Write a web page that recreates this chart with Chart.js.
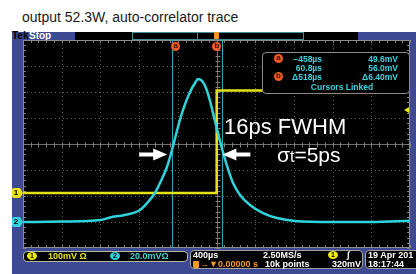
<!DOCTYPE html>
<html><head><meta charset="utf-8">
<script src="https://cdn.jsdelivr.net/npm/chart.js@4.4.1/dist/chart.umd.min.js"></script>
<style>
html,body{margin:0;padding:0;background:#fff;}
#wrap{position:relative;width:416px;height:274px;overflow:hidden;font-family:"Liberation Sans",Arial,sans-serif;}
.abs{position:absolute;white-space:nowrap;}
.ro{position:absolute;white-space:nowrap;font:bold 8.5px "Liberation Sans",Arial,sans-serif;color:#3cd2dc;line-height:10px;}
.st{position:absolute;white-space:nowrap;font:bold 9px "Liberation Sans",Arial,sans-serif;line-height:10px;}
.box{position:absolute;background:#000;border:1px solid #a0a0a0;border-radius:4px;box-sizing:border-box;}
.dot{position:absolute;width:10px;height:8px;border-radius:50%;font:bold 7px "Liberation Sans",Arial,sans-serif;color:#000;text-align:center;line-height:8px;}
.cl{position:absolute;width:9px;height:9px;border-radius:50%;background:#f05a23;font:bold 8px "Liberation Sans",Arial,sans-serif;color:#3a1000;text-align:center;line-height:8px;}
.mk{position:absolute;width:8px;height:10px;font:bold 8px "Liberation Sans",Arial,sans-serif;color:#000;text-align:center;line-height:10px;border-radius:2px 0 0 2px;background:var(--c);}
.mk::after{content:'';position:absolute;left:8px;top:0;border-top:5px solid transparent;border-bottom:5px solid transparent;border-left:3px solid var(--c);}
</style></head>
<body>
<div id="wrap">
 <div class="abs" style="left:22px;top:9px;font-size:14px;color:#1a1a1a">output 52.3W, auto-correlator trace</div>
 <div class="abs" style="left:12px;top:32px;width:404px;height:242px;background:#3d4993"></div>
 <div class="abs" style="left:12px;top:31px;font:bold 10px 'Liberation Sans',Arial;color:#000;line-height:10px">Tek</div>
 <div class="abs" style="left:29px;top:31px;font:bold 10px 'Liberation Sans',Arial;color:#fff;line-height:10px">Stop</div>
 <div class="abs" style="left:75px;top:32px;width:283px;height:8px;background:#000"></div>
 <div class="abs" style="left:132px;top:32px;width:170px;height:6px;border:1px solid #3f8f94;box-sizing:content-box"></div>
 <div class="abs" style="left:197px;top:32px;width:1px;height:8px;background:#3f8f94"></div>
 <canvas id="c" width="416" height="274" style="position:absolute;left:0;top:0"></canvas>
 <div class="abs" style="left:214px;top:32px;width:5px;height:7px;background:#f09a20;border-radius:1px"></div>

 <div class="cl" id="cla" style="top:42px">a</div>
 <div class="cl" id="clb" style="top:42px">b</div>

 <div class="box" style="left:262px;top:52px;width:148px;height:42px;border-color:#8a8a8a"></div>
 <div class="cl" style="left:274px;top:54px">a</div>
 <div class="ro" style="left:282px;top:54px;width:40px;text-align:right">&minus;458&micro;s</div>
 <div class="ro" style="left:350px;top:54px;width:48px;text-align:right">49.6mV</div>
 <div class="ro" style="left:282px;top:63px;width:40px;text-align:right">60.8&micro;s</div>
 <div class="ro" style="left:350px;top:63px;width:48px;text-align:right">56.0mV</div>
 <div class="cl" style="left:274px;top:72px">b</div>
 <div class="ro" style="left:282px;top:72px;width:40px;text-align:right">&Delta;518&micro;s</div>
 <div class="ro" style="left:350px;top:72px;width:48px;text-align:right">&Delta;6.40mV</div>
 <div class="ro" style="left:300px;top:82px;width:84px;text-align:center">Cursors Linked</div>

 <div class="abs" style="left:224px;top:115px;font-size:22px;color:#fff;line-height:23px">16ps FWHM</div>
 <div class="abs" style="left:277px;top:143px;font-size:21px;color:#fff;line-height:23px">&sigma;<span style="font-size:16px">t</span>=5ps</div>

 <div class="mk" id="mk1" style="--c:#e8e41c;left:12px">1</div>
 <div class="mk" id="mk2" style="--c:#2fd3db;left:12px">2</div>
 <div class="abs" id="trg" style="left:404px;width:0;height:0;border-top:3px solid transparent;border-bottom:3px solid transparent;border-right:5px solid #e8e41c"></div>

 <div class="box" style="left:23px;top:251px;width:165px;height:11px;border-color:#b8b89a"></div>
 <div class="dot" style="left:27px;top:252px;background:#f0ea10">1</div>
 <div class="st" style="left:48px;top:251px;color:#e8e41c">100mV &Omega;</div>
 <div class="dot" style="left:110px;top:252px;background:#30d0d8">2</div>
 <div class="st" style="left:130px;top:251px;color:#3cd2dc">20.0mV&Omega;</div>

 <div class="box" style="left:190px;top:250px;width:173px;height:19px"></div>
 <div class="st" style="left:193px;top:250px;color:#fff">400&micro;s</div>
 <div class="st" style="left:263px;top:250px;color:#fff">2.50MS/s</div>
 <div class="abs" style="left:193px;top:261px;width:6px;height:7px;background:#f09a20;border-radius:1px"></div>
 <div class="st" style="left:200px;top:259px;color:#f09a20">&rarr;&#9660;0.00000 s</div>
 <div class="st" style="left:265px;top:259px;color:#fff">10k points</div>
 <div class="dot" style="left:328px;top:251px;background:#f0ea10">1</div>
 <div class="st" style="left:347px;top:250px;color:#fff;font-style:italic">&int;</div>
 <div class="st" style="left:332px;top:259px;color:#fff">320mV</div>

 <div class="box" style="left:365px;top:250px;width:60px;height:19px"></div>
 <div class="st" style="left:368px;top:250px;color:#fff">19 Apr 201</div>
 <div class="st" style="left:368px;top:259px;color:#fff">18:17:44</div>
</div>
<script>
// ---- data (time in µs, voltages in mV relative to channel ground) ----
const timeUs = [-2000,-1600,-1200,-1100,-950,-791,-708,-636,-584,-512,-460,-398,-346,-274,-222,-191,-150,-109,-67,-16,36,78,119,171,243,346,481,625,811,1200,1600,2000];
const ch2mV  = [0,0.3,1.5,3.5,5.4,9.2,15.4,22.3,30,42.3,55.4,73.1,86.2,100,106.9,110,108.5,103.1,93.1,77.7,62.3,50.8,40.8,30,20.8,13.1,6.9,3.1,0.8,0,0,1];
const ch1TimeUs = [-2000, 2, 2, 2000];
const ch1mV     = [0, 0, 394, 394];
const cursorTimesUs = [-458, 60.8];
const xDivsUs = [-2000,-1600,-1200,-800,-400,0,400,800,1200,1600,2000];
const yDivsCh2mV = [-20,0,20,40,60,80,100,120,140];
const triggerLevelMv = 320;

function ln(ctx,x1,y1,x2,y2){ctx.beginPath();ctx.moveTo(x1,y1);ctx.lineTo(x2,y2);ctx.stroke();}

const scopeGrid = {
  id:'scopeGrid',
  beforeDatasetsDraw(chart){
    const {ctx, chartArea:a, scales:{x, y}} = chart;
    ctx.save();
    ctx.fillStyle='#000';
    ctx.fillRect(a.left,a.top,a.right-a.left,a.bottom-a.top);
    ctx.lineWidth=1;
    ctx.strokeStyle='#5c5c5c'; ctx.setLineDash([1,3]);
    xDivsUs.slice(1,-1).forEach(t=>{ if(t===0) return; const px=Math.round(x.getPixelForValue(t))+0.5; ln(ctx,px,a.top,px,a.bottom);});
    yDivsCh2mV.slice(1,-1).forEach(v=>{ if(v===60) return; const py=Math.round(y.getPixelForValue(v))+0.5; ln(ctx,a.left,py,a.right,py);});
    ctx.setLineDash([]);
    const cx=Math.round(x.getPixelForValue(0))+0.5, cy=Math.round(y.getPixelForValue(60))+0.5;
    ctx.strokeStyle='#6e6e6e';
    ln(ctx,cx,a.top,cx,a.bottom); ln(ctx,a.left,cy,a.right,cy);
    ctx.strokeStyle='#808080';
    for(let t=-2000;t<=2000;t+=80){const px=Math.round(x.getPixelForValue(t))+0.5; ln(ctx,px,cy-2,px,cy+3); ln(ctx,px,a.top,px,a.top+3); ln(ctx,px,a.bottom-3,px,a.bottom);}
    for(let v=-20;v<=140;v+=4){const py=Math.round(y.getPixelForValue(v))+0.5; ln(ctx,cx-2,py,cx+3,py); ln(ctx,a.left,py,a.left+3,py); ln(ctx,a.right-3,py,a.right,py);}
    ctx.strokeStyle='#8c8c8c';
    ctx.strokeRect(a.left+0.5,a.top+0.5,a.right-a.left-1,a.bottom-a.top-1);
    ctx.strokeStyle='#2ba9b2';
    cursorTimesUs.forEach(t=>{const px=Math.round(x.getPixelForValue(t))+0.5; ln(ctx,px,a.top,px,a.bottom);});
    ctx.restore();
  },
  afterDatasetsDraw(chart){
    const {ctx, scales:{x, y}} = chart;
    const ay = y.getPixelForValue(52);
    const xa = x.getPixelForValue(cursorTimesUs[0]) - 5;
    const xb = x.getPixelForValue(cursorTimesUs[1]);
    ctx.save(); ctx.fillStyle='#fff';
    function arrow(tip,dir){
      ctx.beginPath();
      ctx.moveTo(tip,ay);
      ctx.lineTo(tip-dir*14,ay-6);
      ctx.lineTo(tip-dir*14,ay-2);
      ctx.lineTo(tip-dir*28,ay-2);
      ctx.lineTo(tip-dir*28,ay+2);
      ctx.lineTo(tip-dir*14,ay+2);
      ctx.lineTo(tip-dir*14,ay+6);
      ctx.closePath(); ctx.fill();
    }
    arrow(xa,1); arrow(xb,-1);
    ctx.restore();
  }
};

const chart = new Chart(document.getElementById('c'), {
  type:'line',
  data:{datasets:[
    {label:'CH2', data:timeUs.map((t,i)=>({x:t,y:ch2mV[i]})), yAxisID:'y', borderColor:'#2fd3db', borderWidth:2.5, pointRadius:0, cubicInterpolationMode:'monotone', order:0},
    {label:'CH1', data:ch1TimeUs.map((t,i)=>({x:t,y:ch1mV[i]})), yAxisID:'y1', borderColor:'#e6e21a', borderWidth:2.5, pointRadius:0, tension:0, order:1}
  ]},
  options:{
    responsive:false, animation:false, devicePixelRatio:1,
    layout:{padding:{left:23,top:40,right:6,bottom:26}},
    plugins:{legend:{display:false},tooltip:{enabled:false},title:{display:false}},
    scales:{
      x:{type:'linear',min:-2000,max:2000,display:false},
      y:{type:'linear',min:-20,max:140,display:false},
      y1:{type:'linear',min:-211.5,max:588.5,display:false}
    }
  },
  plugins:[scopeGrid]
});

const sx=chart.scales.x, sy=chart.scales.y, sy1=chart.scales.y1;
document.getElementById('mk1').style.top=(sy1.getPixelForValue(0)-5)+'px';
document.getElementById('mk2').style.top=(sy.getPixelForValue(0)-5)+'px';
document.getElementById('trg').style.top=(sy1.getPixelForValue(triggerLevelMv)-3)+'px';
document.getElementById('cla').style.left=(sx.getPixelForValue(cursorTimesUs[0])-1)+'px';
document.getElementById('clb').style.left=(sx.getPixelForValue(cursorTimesUs[1])-10)+'px';
</script>
</body></html>
